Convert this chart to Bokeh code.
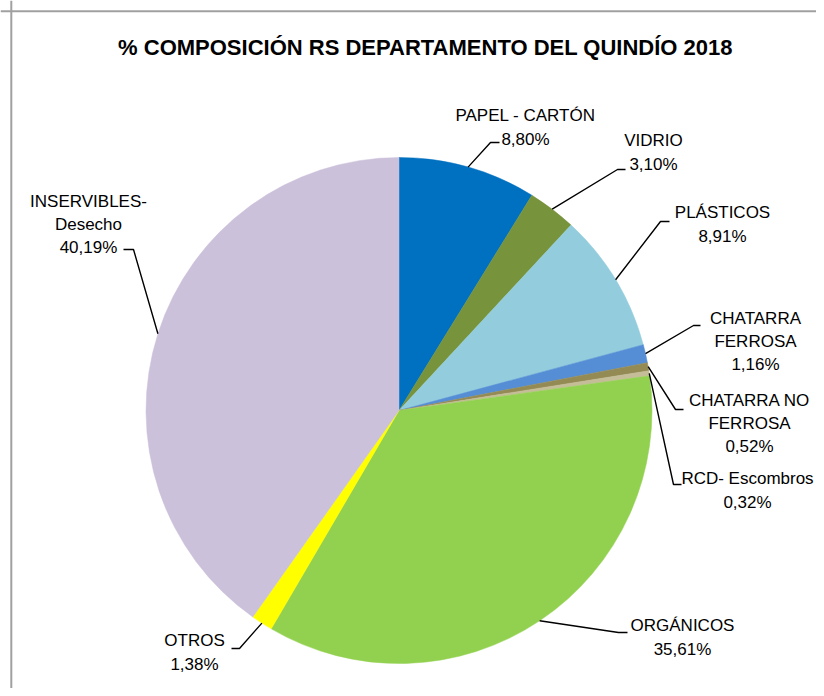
import numpy as np
from bokeh.plotting import figure
from bokeh.models import Range1d, Span, ColumnDataSource
from bokeh.core.properties import value
from bokeh.embed import file_html
from bokeh.resources import INLINE

# ---- data ----
categories = ["PAPEL - CARTÓN", "VIDRIO", "PLÁSTICOS", "CHATARRA\nFERROSA",
              "CHATARRA NO\nFERROSA", "RCD- Escombros", "ORGÁNICOS", "OTROS",
              "INSERVIBLES-\nDesecho"]
percentages = [8.80, 3.10, 8.91, 1.16, 0.52, 0.32, 35.61, 1.38, 40.19]
colors = ["#0070C0", "#77933C", "#93CDDD", "#558ED5", "#948A54", "#C4BD97",
          "#92D050", "#FFFF00", "#CCC1DA"]
title_text = "% COMPOSICIÓN RS DEPARTAMENTO DEL QUINDÍO 2018"

# ---- layout (pixels from the figure's top-left corner) ----
label_x = [525, 653, 722, 755, 749, 747, 682, 194, 88]
label_y = [127, 152, 224, 341, 423, 490, 637, 652, 224]
elbow_x = [490, 617, 660, 693, 675, 673, 618, 239, 133]
elbow_y = [142, 169, 221, 325, 409, 484, 632, 648, 249]
end_x = [499, 625, 669, 700, 683, 681, 627, 231, 123]

W, H = 816, 688
cx, cy_s, R = 398.5, 410, 253


def ys(y):
    return H - y


cy = ys(cy_s)

vals = np.array(percentages)
frac = vals / vals.sum()
cum_end = np.cumsum(frac)
cum_start = cum_end - frac
start_angle = np.pi / 2 - 2 * np.pi * cum_end
end_angle = np.pi / 2 - 2 * np.pi * cum_start
mid = np.pi / 2 - 2 * np.pi * (cum_start + frac / 2)

p = figure(width=W, height=H, output_backend="svg", toolbar_location=None,
           x_range=Range1d(0, W), y_range=Range1d(0, H),
           x_axis_type=None, y_axis_type=None, min_border=0)
p.outline_line_color = None
p.grid.visible = False
p.background_fill_color = "white"
p.border_fill_color = "white"

src = ColumnDataSource(dict(start=start_angle, end=end_angle, color=colors))
p.wedge(x=cx, y=cy, radius=R, start_angle="start", end_angle="end",
        fill_color="color", line_color="color", line_width=0.5, source=src)

# leader lines
xs, yy = [], []
for i in range(len(vals)):
    ex = cx + R * np.cos(mid[i])
    ey = cy + R * np.sin(mid[i])
    xs.append([ex, elbow_x[i], end_x[i]])
    yy.append([ey, ys(elbow_y[i]), ys(elbow_y[i])])
p.multi_line(xs=xs, ys=yy, line_color="black", line_width=1.4)

labels = [f"{c}\n{v:.2f}%".replace(".", ",") for c, v in zip(categories, percentages)]
p.text(x=label_x, y=[ys(v) for v in label_y], text=labels,
       text_font=value("Liberation Sans"), text_font_size="17px",
       text_color="black", text_align="center", text_baseline="middle",
       text_line_height=1.22)

p.text(x=[425], y=[ys(47)], text=[title_text],
       text_font=value("Liberation Sans"), text_font_size="22px",
       text_font_style="bold", text_color="black",
       text_align="center", text_baseline="middle")

p.add_layout(Span(location=ys(10.8), dimension="width",
                  line_color="#a0a0a0", line_width=2))
p.add_layout(Span(location=10.8, dimension="height",
                  line_color="#a0a0a0", line_width=2))

open("out.html", "w").write(file_html(p, INLINE))
